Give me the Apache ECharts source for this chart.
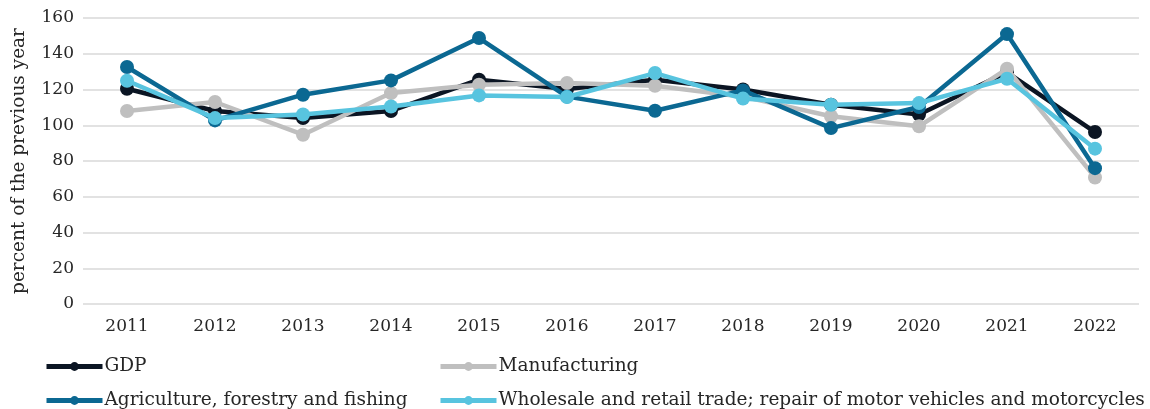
<!DOCTYPE html>
<html>
<head>
<meta charset="utf-8">
<script src="https://cdn.jsdelivr.net/npm/echarts@6/dist/echarts.min.js"></script>
<style>
html,body{margin:0;padding:0;background:#fff;}
#chart{width:1150px;height:409px;}
</style>
</head>
<body>
<div id="chart"></div>
<script>
const years = ['2011','2012','2013','2014','2015','2016','2017','2018','2019','2020','2021','2022'];
const gdp = [120.4, 108, 104, 108, 125.5, 120.3, 125.5, 120, 111.5, 106, 129.6, 96.2];
const manufacturing = [108, 113, 94.7, 118, 122.7, 123.6, 122.1, 116, 105, 99.4, 131.6, 70.8];
const agriculture = [132.6, 102.7, 117.1, 125.1, 148.8, 116, 108.1, 119.5, 98.4, 110.2, 151, 76];
const wholesale = [124.9, 104, 106, 110.5, 116.7, 115.8, 129.2, 114.9, 111.5, 112.4, 126, 86.9];
const yTicks = [0, 20, 40, 60, 80, 100, 120, 140, 160];

const FONT = 'DejaVu Serif';
const names = ['GDP', 'Manufacturing', 'Agriculture, forestry and fishing', 'Wholesale and retail trade; repair of motor vehicles and motorcycles'];
const colors = ['#0b1523', '#bfbfbf', '#0b6892', '#58c4df'];
const dataSets = [gdp, manufacturing, agriculture, wholesale];

const chart = echarts.init(document.getElementById('chart'), null, {renderer: 'canvas'});
const legendPos = [
  {left: 44, top: 357},
  {left: 438, top: 357},
  {left: 44, top: 391},
  {left: 438, top: 391}
];
chart.setOption({
  animation: false,
  backgroundColor: '#ffffff',
  textStyle: {fontFamily: FONT},
  grid: {left: 83, right: 11, top: 18, bottom: 105, containLabel: false},
  legend: names.map((n, i) => ({
    data: [n],
    left: legendPos[i].left,
    top: legendPos[i].top,
    itemWidth: 56,
    itemHeight: 11,
    itemGap: 0,
    padding: 0,
    lineStyle: {width: 5},
    textStyle: {fontFamily: FONT, fontSize: 18.5, color: '#262626', padding: [0, 0, 0, -3]}
  })),
  xAxis: {
    type: 'category',
    data: years,
    boundaryGap: true,
    axisLine: {show: false},
    axisTick: {show: false},
    axisLabel: {fontFamily: FONT, fontSize: 17, color: '#262626', margin: 14}
  },
  yAxis: {
    type: 'value',
    min: yTicks[0],
    max: yTicks[yTicks.length - 1],
    interval: 20,
    name: 'percent of the previous year',
    nameLocation: 'middle',
    nameGap: 54,
    nameTextStyle: {fontFamily: FONT, fontSize: 18.5, color: '#262626'},
    axisLine: {show: false},
    axisTick: {show: false},
    axisLabel: {fontFamily: FONT, fontSize: 17, color: '#262626', margin: 9},
    splitLine: {lineStyle: {color: '#d9d9d9', width: 1.5}}
  },
  series: dataSets.map((d, i) => ({
    name: names[i],
    type: 'line',
    data: d,
    symbol: 'circle',
    symbolSize: 14,
    showAllSymbol: true,
    color: colors[i],
    lineStyle: {width: 4.5, color: colors[i]},
    itemStyle: {color: colors[i]},
    z: 2 + i
  }))
});
</script>
</body>
</html>
